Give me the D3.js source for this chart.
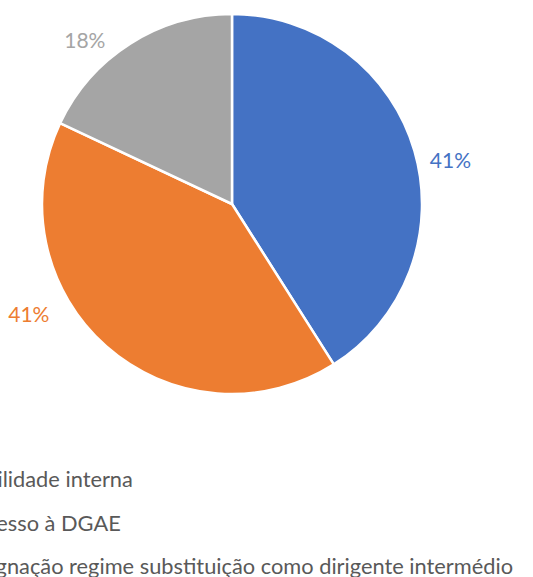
<!DOCTYPE html>
<meta charset="utf-8">
<head>
  <meta charset="UTF-8" />
  <title>Pie</title>
  <script src="https://d3js.org/d3.v7.min.js"></script>
</head>
<style>
  body { margin: 0; background: #fff; }
  text { font-family: Lato, "Open Sans", sans-serif; }
</style>
<div id="chart"></div>
<script>
  // data
  var categories = ["Mobilidade interna", "Regresso à DGAE", "Designação regime substituição como dirigente intermédio"]
  var values = [41, 41, 18]
  var colors = ["#4472C4", "#ED7D31", "#A5A5A5"]

  var width = 533, height = 577
  var cx = 232, cy = 204, radius = 190

  // per label nudge from the outer centroid (excel best fit placement)
  var labelNudge = [[12, 15], [-61, -52], [-32, 17]]

  var svg = d3.select("#chart")
    .append("svg")
      .attr("width", width)
      .attr("height", height)

  var g = svg.append("g")
      .attr("transform", "translate(" + cx + "," + cy + ")")

  var pie = d3.pie().sort(null).value(d => d)
  var arcs = pie(values)

  var arc = d3.arc().innerRadius(0).outerRadius(radius)
  var labelArc = d3.arc().innerRadius(215).outerRadius(215)

  var total = d3.sum(values)

  g.selectAll("path.slice")
    .data(arcs)
    .join("path")
      .attr("class", "slice")
      .attr("d", arc)
      .attr("fill", (d, i) => colors[i])
      .attr("stroke", "#fff")
      .attr("stroke-width", 2.5)
      .attr("stroke-linejoin", "round")

  g.selectAll("text.lbl")
    .data(arcs)
    .join("text")
      .attr("class", "lbl")
      .attr("x", (d, i) => labelArc.centroid(d)[0] + labelNudge[i][0])
      .attr("y", (d, i) => labelArc.centroid(d)[1] + labelNudge[i][1])
      .attr("text-anchor", "middle")
      .attr("dominant-baseline", "central")
      .attr("font-size", 21)
      .attr("fill", (d, i) => colors[i])
      .text(d => Math.round(d.value / total * 100) + "%")

  // legend, starts left of the visible area (cropped like the original)
  var legendY = d3.scaleBand().domain(d3.range(categories.length)).range([457, 587])
  var legend = svg.append("g").attr("class", "legend")

  var rows = legend.selectAll("g")
    .data(categories)
    .join("g")
      .attr("transform", (d, i) => "translate(0," + (legendY(i) + legendY.bandwidth() / 2) + ")")

  rows.append("text")
      .attr("class", "legText")
      .attr("dominant-baseline", "central")
      .attr("font-size", 21.8)
      .attr("fill", "#595959")
      .text(d => d)

  // align so the longest row ends where the reference shows it
  var longest = d3.max(rows.selectAll("text").nodes(), n => n.getComputedTextLength())
  var textX = 513 - longest
  rows.selectAll("text").attr("x", textX)

  rows.append("rect")
      .attr("x", textX - 24)
      .attr("y", -6)
      .attr("width", 12)
      .attr("height", 12)
      .attr("fill", (d, i) => colors[i])
</script>
